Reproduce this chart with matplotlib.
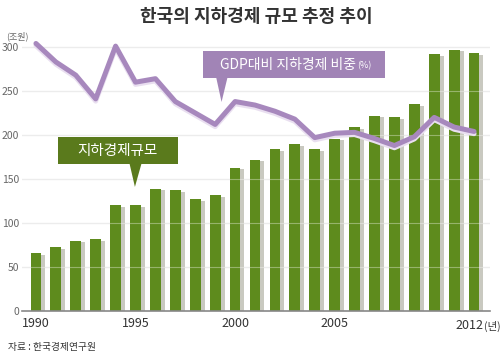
import numpy as np
import matplotlib.pyplot as plt
from matplotlib import patheffects as pe
from matplotlib.patches import Polygon, Rectangle

plt.rcParams['font.family'] = ['Noto Sans CJK KR', 'DejaVu Sans']

years = list(range(1990, 2013))
# 지하경제 규모 (조원)
size = [66, 73, 80, 82, 120, 120, 139, 137, 127, 132, 163, 172,
        184, 190, 184, 196, 209, 222, 220, 235, 292, 297, 293]
# GDP대비 비중 (axis units)
ratio = [304, 283, 268, 241, 301, 260, 264, 238, 225, 212, 238, 234,
         227, 218, 197, 202, 203, 196, 188, 198, 220, 209, 204]
yticks = [0, 50, 100, 150, 200, 250, 300]
xtick_years = [1990, 1995, 2000, 2005, 2012]
xtick_labels = ['1990', '1995', '2000', '2005', '']

green = '#5e8b1d'
green_box = '#5a7a1c'
purple = '#a788bd'
purple_box = '#a184b6'

fig = plt.figure(figsize=(5, 3.54), dpi=100)
ax = fig.add_axes([0.044, 0.1215, 0.936, 0.7955])
ax.set_xlim(1989.30, 2012.80)
ax.set_ylim(0, 320)

# gridlines
for v in yticks[1:]:
    ax.axhline(v, color='#e3e3e3', lw=0.9, zorder=0)
    ax.axhline(v, color='white', lw=0.8, alpha=0.35, zorder=3)

# bars with shadow
ax.bar(np.array(years) + 0.2, np.array(size) - 2, width=0.54, color='#c9c9c0', zorder=1)
ax.bar(years, size, width=0.54, color=green, zorder=2)

# ratio line
ax.plot(years, ratio, color=purple, lw=3.6, solid_joinstyle='round', solid_capstyle='round',
        zorder=5,
        path_effects=[pe.SimpleLineShadow(offset=(0, -1.6), shadow_color='#e9dff0', alpha=1),
                      pe.Normal()])

# callout boxes
ax.add_patch(Rectangle((1998.39, 264.8), 9.14, 30.7, color=purple_box, zorder=6, lw=0))
ax.add_patch(Polygon([(1999.05, 265.5), (1999.62, 265.5), (1999.32, 237.5)],
                     color=purple_box, zorder=6, lw=0))
ax.text(2006.05, 280, 'GDP대비 지하경제 비중', color='white', fontsize=10,
        ha='right', va='center', zorder=7)
ax.text(2006.12, 279, '(%)', color='white', fontsize=6.5, ha='left', va='center', zorder=7)

ax.add_patch(Rectangle((1991.1, 167), 6.03, 30.7, color=green_box, zorder=6, lw=0))
ax.add_patch(Polygon([(1994.7, 167.5), (1995.3, 167.5), (1994.97, 141)],
                     color=green_box, zorder=6, lw=0))
ax.text(1994.1, 182, '지하경제규모', color='white', fontsize=10.5,
        ha='center', va='center', zorder=7)

# axes styling
for s in ['top', 'right', 'left']:
    ax.spines[s].set_visible(False)
ax.spines['bottom'].set_color('#888888')
ax.spines['bottom'].set_linewidth(1.2)
ax.spines['bottom'].set_zorder(8)
ax.set_yticks(yticks)
ax.set_yticklabels([str(v) for v in yticks], fontsize=7.5, color='#666666')
ax.tick_params(axis='y', length=0, pad=2)
ax.set_xticks(xtick_years)
ax.set_xticklabels(xtick_labels, fontsize=9, color='#333333')
ax.tick_params(axis='x', length=0, pad=4)
ax.text(2012.45, -17, '2012', fontsize=9, color='#333333', ha='right', va='center')
ax.text(2012.5, -17, '(년)', fontsize=7.5, color='#333333', ha='left', va='center')

fig.text(0.012, 0.898, '(조원)', fontsize=6.5, color='#666666', ha='left', va='center')
fig.text(0.512, 0.952, '한국의 지하경제 규모 추정 추이', fontsize=13, fontweight='bold',
         color='#333333', ha='center', va='center')
fig.text(0.016, 0.02, '자료 : 한국경제연구원', fontsize=7, color='#333333', ha='left', va='center')

fig.savefig('out.png', dpi=100)
